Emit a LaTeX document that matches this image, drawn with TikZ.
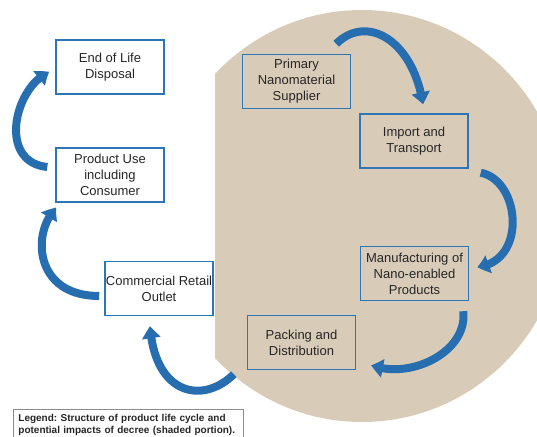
\documentclass[tikz,border=0pt]{standalone}
\usepackage{fontspec}
\setmainfont{Liberation Sans}
\usetikzlibrary{positioning,arrows.meta,bending}

\definecolor{boxblue}{RGB}{46,117,182}
\definecolor{flowblue}{RGB}{38,110,176}
\definecolor{linen}{RGB}{216,204,184}
\definecolor{txtgray}{RGB}{38,38,38}

\begin{document}
\frenchspacing
\begin{tikzpicture} [x=1pt,y=-1pt,
  stage/.style={draw=boxblue,line width=1.4pt,minimum width=108pt,minimum height=54pt,inner sep=1pt,align=center,text=txtgray,font=\fontsize{13}{16}\selectfont},
  flow/.style={draw=flowblue,line width=8pt,-{Triangle[width=18pt,length=12pt,bend]}}]
\useasboundingbox (0,0) rectangle (537,436);
\clip (0,0) rectangle (537,436);

% shaded portion
\begin{scope}
	\clip (215,0) rectangle (537,436);
	\fill[linen] (362,216) ellipse [x radius=203, y radius=206];
\end{scope}

\node[stage] (eol) at (110,67) {End of Life\\Disposal};
\node[stage] (use) at (110,175) {Product Use\\including\\Consumer};
\node[stage] (ret) at (159,288.5) {Commercial Retail\\Outlet};
\node[stage] (prim) at (296.5,81.5) {Primary\\Nanomaterial\\Supplier};
\node[stage] (imp) at (414,141) {Import and\\Transport};
\node[stage] (manu) at (414.5,273.5) {Manufacturing of\\Nano-enabled\\Products};
\node[stage] (pack) at (301.5,342.5) {Packing and\\Distribution};

\node[draw=black!45,line width=0.8pt,anchor=north west,text width=220pt,inner sep=5pt,align=left,
  font=\bfseries\fontsize{10}{12}\selectfont,text=txtgray] (legend) at (13,409)
  {Legend: Structure of product life cycle and\\potential impacts of decree (shaded portion).\\[4pt]};

% flow of the cycle
\draw[flow] ([shift={(-15,-10)}]prim.north east) .. controls +(30,-30) and +(-10,-65) .. ([shift={(9,-9)}]imp.north);
\draw[flow] ([shift={(12,4)}]imp.south east) .. controls +(40,8) and +(50,-5) .. ([shift={(8,-6.5)}]manu.east);
\draw[flow] ([shift={(-6,10)}]manu.south east) .. controls +(5,40) and +(40,15) .. ([shift={(15,-5)}]pack.south east);
\draw[flow] ([shift={(-13,4)}]pack.south west) .. controls +(-30,30) and +(5,70) .. ([shift={(-9,10)}]ret.south);
\draw[flow] ([shift={(-5,7.5)}]ret.west) .. controls +(-65,0) and +(-25,25) .. ([shift={(1,5)}]use.south west);
\draw[flow] ([shift={(-8,-8)}]use.west) .. controls +(-50,-5) and +(-35,15) .. ([shift={(-6,5)}]eol.west);

\end{tikzpicture}
\end{document}
